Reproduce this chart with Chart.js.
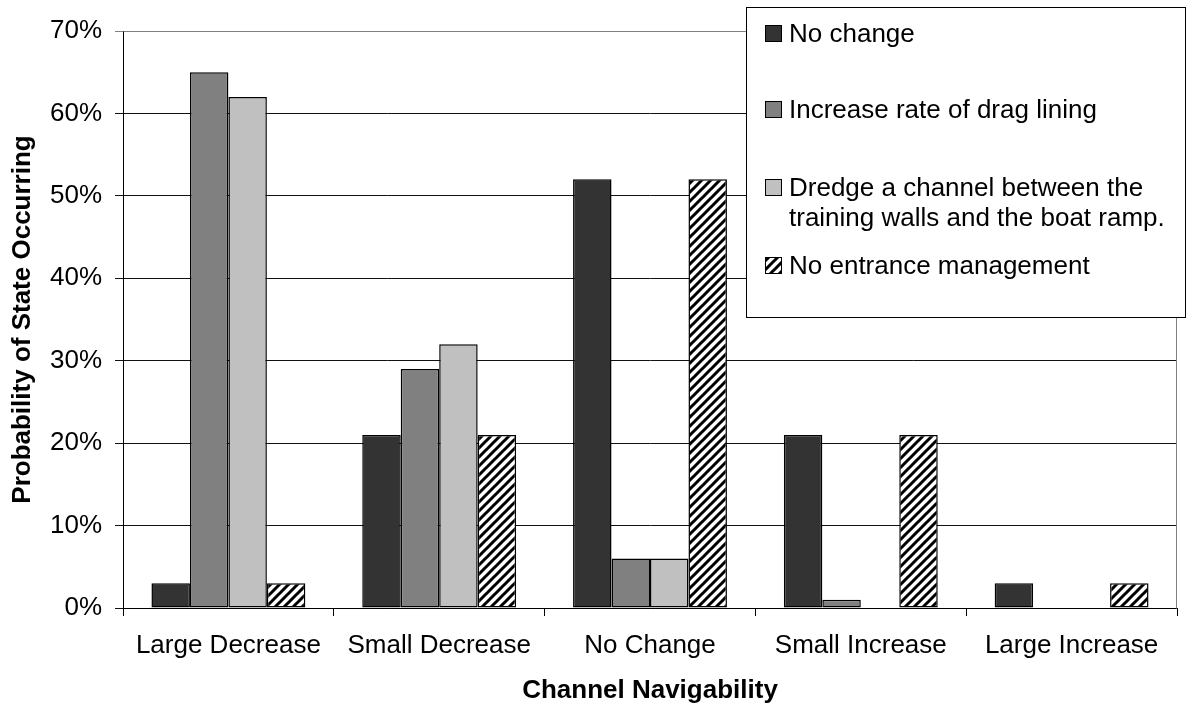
<!DOCTYPE html>
<html><head><meta charset="utf-8">
<script src="https://cdn.jsdelivr.net/npm/chart.js@4.4.1/dist/chart.umd.min.js"></script>
<style>html,body{margin:0;padding:0;background:#fff;overflow:hidden}#wrap{width:1186px;height:706px;position:relative}</style>
</head><body><div id="wrap"><canvas id="c" width="1186" height="706"></canvas></div>
<script>
const categories = ['Large Decrease', 'Small Decrease', 'No Change', 'Small Increase', 'Large Increase'];
const seriesNames = ['No change', 'Increase rate of drag lining', 'Dredge a channel between the\ntraining walls and the boat ramp.', 'No entrance management'];
const noChange = [3, 21, 52, 21, 3];
const dragLining = [65, 29, 6, 1, 0];
const dredge = [62, 32, 6, 0, 0];
const noManagement = [3, 21, 52, 21, 3];
const yTicks = [0, 10, 20, 30, 40, 50, 60, 70];
const xTitle = 'Channel Navigability';
const yTitle = 'Probability of State Occurring';

const FONT = "'Liberation Sans', Arial, Helvetica, sans-serif";

function makeHatch() {
  const s = 9;
  const c = document.createElement('canvas');
  c.width = s; c.height = s;
  const g = c.getContext('2d');
  g.fillStyle = '#fff'; g.fillRect(0, 0, s, s);
  g.strokeStyle = '#000'; g.lineWidth = 3;
  g.beginPath();
  g.moveTo(-2, s + 2); g.lineTo(s + 2, -2);
  g.moveTo(-2, 2); g.lineTo(2, -2);
  g.moveTo(s - 2, s + 2); g.lineTo(s + 2, s - 2);
  g.stroke();
  return document.getElementById('c').getContext('2d').createPattern(c, 'repeat');
}
const hatch = makeHatch();
const fills = ['#333333', '#808080', '#c0c0c0', hatch];
const seriesData = [noChange, dragLining, dredge, noManagement];

const plotBorder = {
  id: 'plotBorder',
  beforeDatasetsDraw(chart) {
    const {ctx, chartArea: a} = chart;
    ctx.save();
    ctx.strokeStyle = '#808080'; ctx.lineWidth = 1;
    ctx.beginPath();
    ctx.moveTo(Math.round(a.left) + 0.5, Math.round(a.top) + 0.5);
    ctx.lineTo(Math.round(a.right) - 0.5, Math.round(a.top) + 0.5);
    ctx.lineTo(Math.round(a.right) - 0.5, Math.round(a.bottom) + 0.5);
    ctx.stroke();
    ctx.restore();
  }
};

const legendBox = {
  id: 'legendBox',
  afterDraw(chart) {
    const ctx = chart.ctx;
    ctx.save();
    ctx.fillStyle = '#fff';
    ctx.fillRect(746, 7, 439, 310);
    ctx.strokeStyle = '#000'; ctx.lineWidth = 1;
    ctx.strokeRect(746.5, 7.5, 439, 310);
    const baselines = [42, 118, 196, 274];
    ctx.font = '26px ' + FONT;
    ctx.textBaseline = 'alphabetic';
    ctx.textAlign = 'left';
    chart.data.datasets.forEach((ds, i) => {
      const b = baselines[i];
      ctx.fillStyle = ds.backgroundColor;
      ctx.fillRect(765, b - 17, 17, 17);
      ctx.strokeStyle = '#000'; ctx.lineWidth = 1;
      ctx.strokeRect(765.5, b - 16.5, 16, 16);
      ctx.fillStyle = '#000';
      ds.label.split('\n').forEach((line, k) => ctx.fillText(line, 789, b + k * 29.5));
    });
    ctx.restore();
  }
};

new Chart(document.getElementById('c'), {
  type: 'bar',
  data: {
    labels: categories,
    datasets: seriesNames.map((n, i) => ({
      label: n,
      data: seriesData[i],
      backgroundColor: fills[i],
      borderColor: '#000',
      borderWidth: 1.5,
      borderSkipped: false,
      categoryPercentage: 0.73,
      barPercentage: 1.0
    }))
  },
  options: {
    responsive: false,
    animation: false,
    devicePixelRatio: 1,
    layout: {padding: {top: 31, right: 9, left: 0, bottom: 0}},
    plugins: {legend: {display: false}, tooltip: {enabled: false}},
    scales: {
      x: {
        afterFit(s) { s.height = 98; },
        grid: {
          offset: true, drawOnChartArea: false, drawTicks: true, tickLength: 8,
          color: (c) => c.index === categories.length ? '#808080' : '#000'
        },
        border: {display: true, color: '#000', width: 1},
        ticks: {color: '#000', font: {family: FONT, size: 26}, padding: 14, maxRotation: 0, autoSkip: false},
        title: {display: true, text: xTitle, color: '#000', font: {family: FONT, size: 26, weight: 'bold', lineHeight: 1}, padding: {top: 0, bottom: 2}}
      },
      y: {
        min: yTicks[0], max: yTicks[yTicks.length - 1],
        afterFit(s) { s.width = 123; },
        afterBuildTicks(s) { s.ticks = yTicks.map(v => ({value: v})); },
        grid: {
          drawTicks: true, tickLength: 8,
          color: (c) => c.index === yTicks.length - 1 ? '#808080' : '#111'
        },
        border: {display: true, color: '#000', width: 1},
        ticks: {color: '#000', font: {family: FONT, size: 26}, padding: 13, callback: v => v + '%'},
        title: {display: true, text: yTitle, color: '#000', font: {family: FONT, size: 26, weight: 'bold', lineHeight: 1}, padding: {top: 10, bottom: 0}}
      }
    }
  },
  plugins: [plotBorder, legendBox]
});
</script></body></html>
